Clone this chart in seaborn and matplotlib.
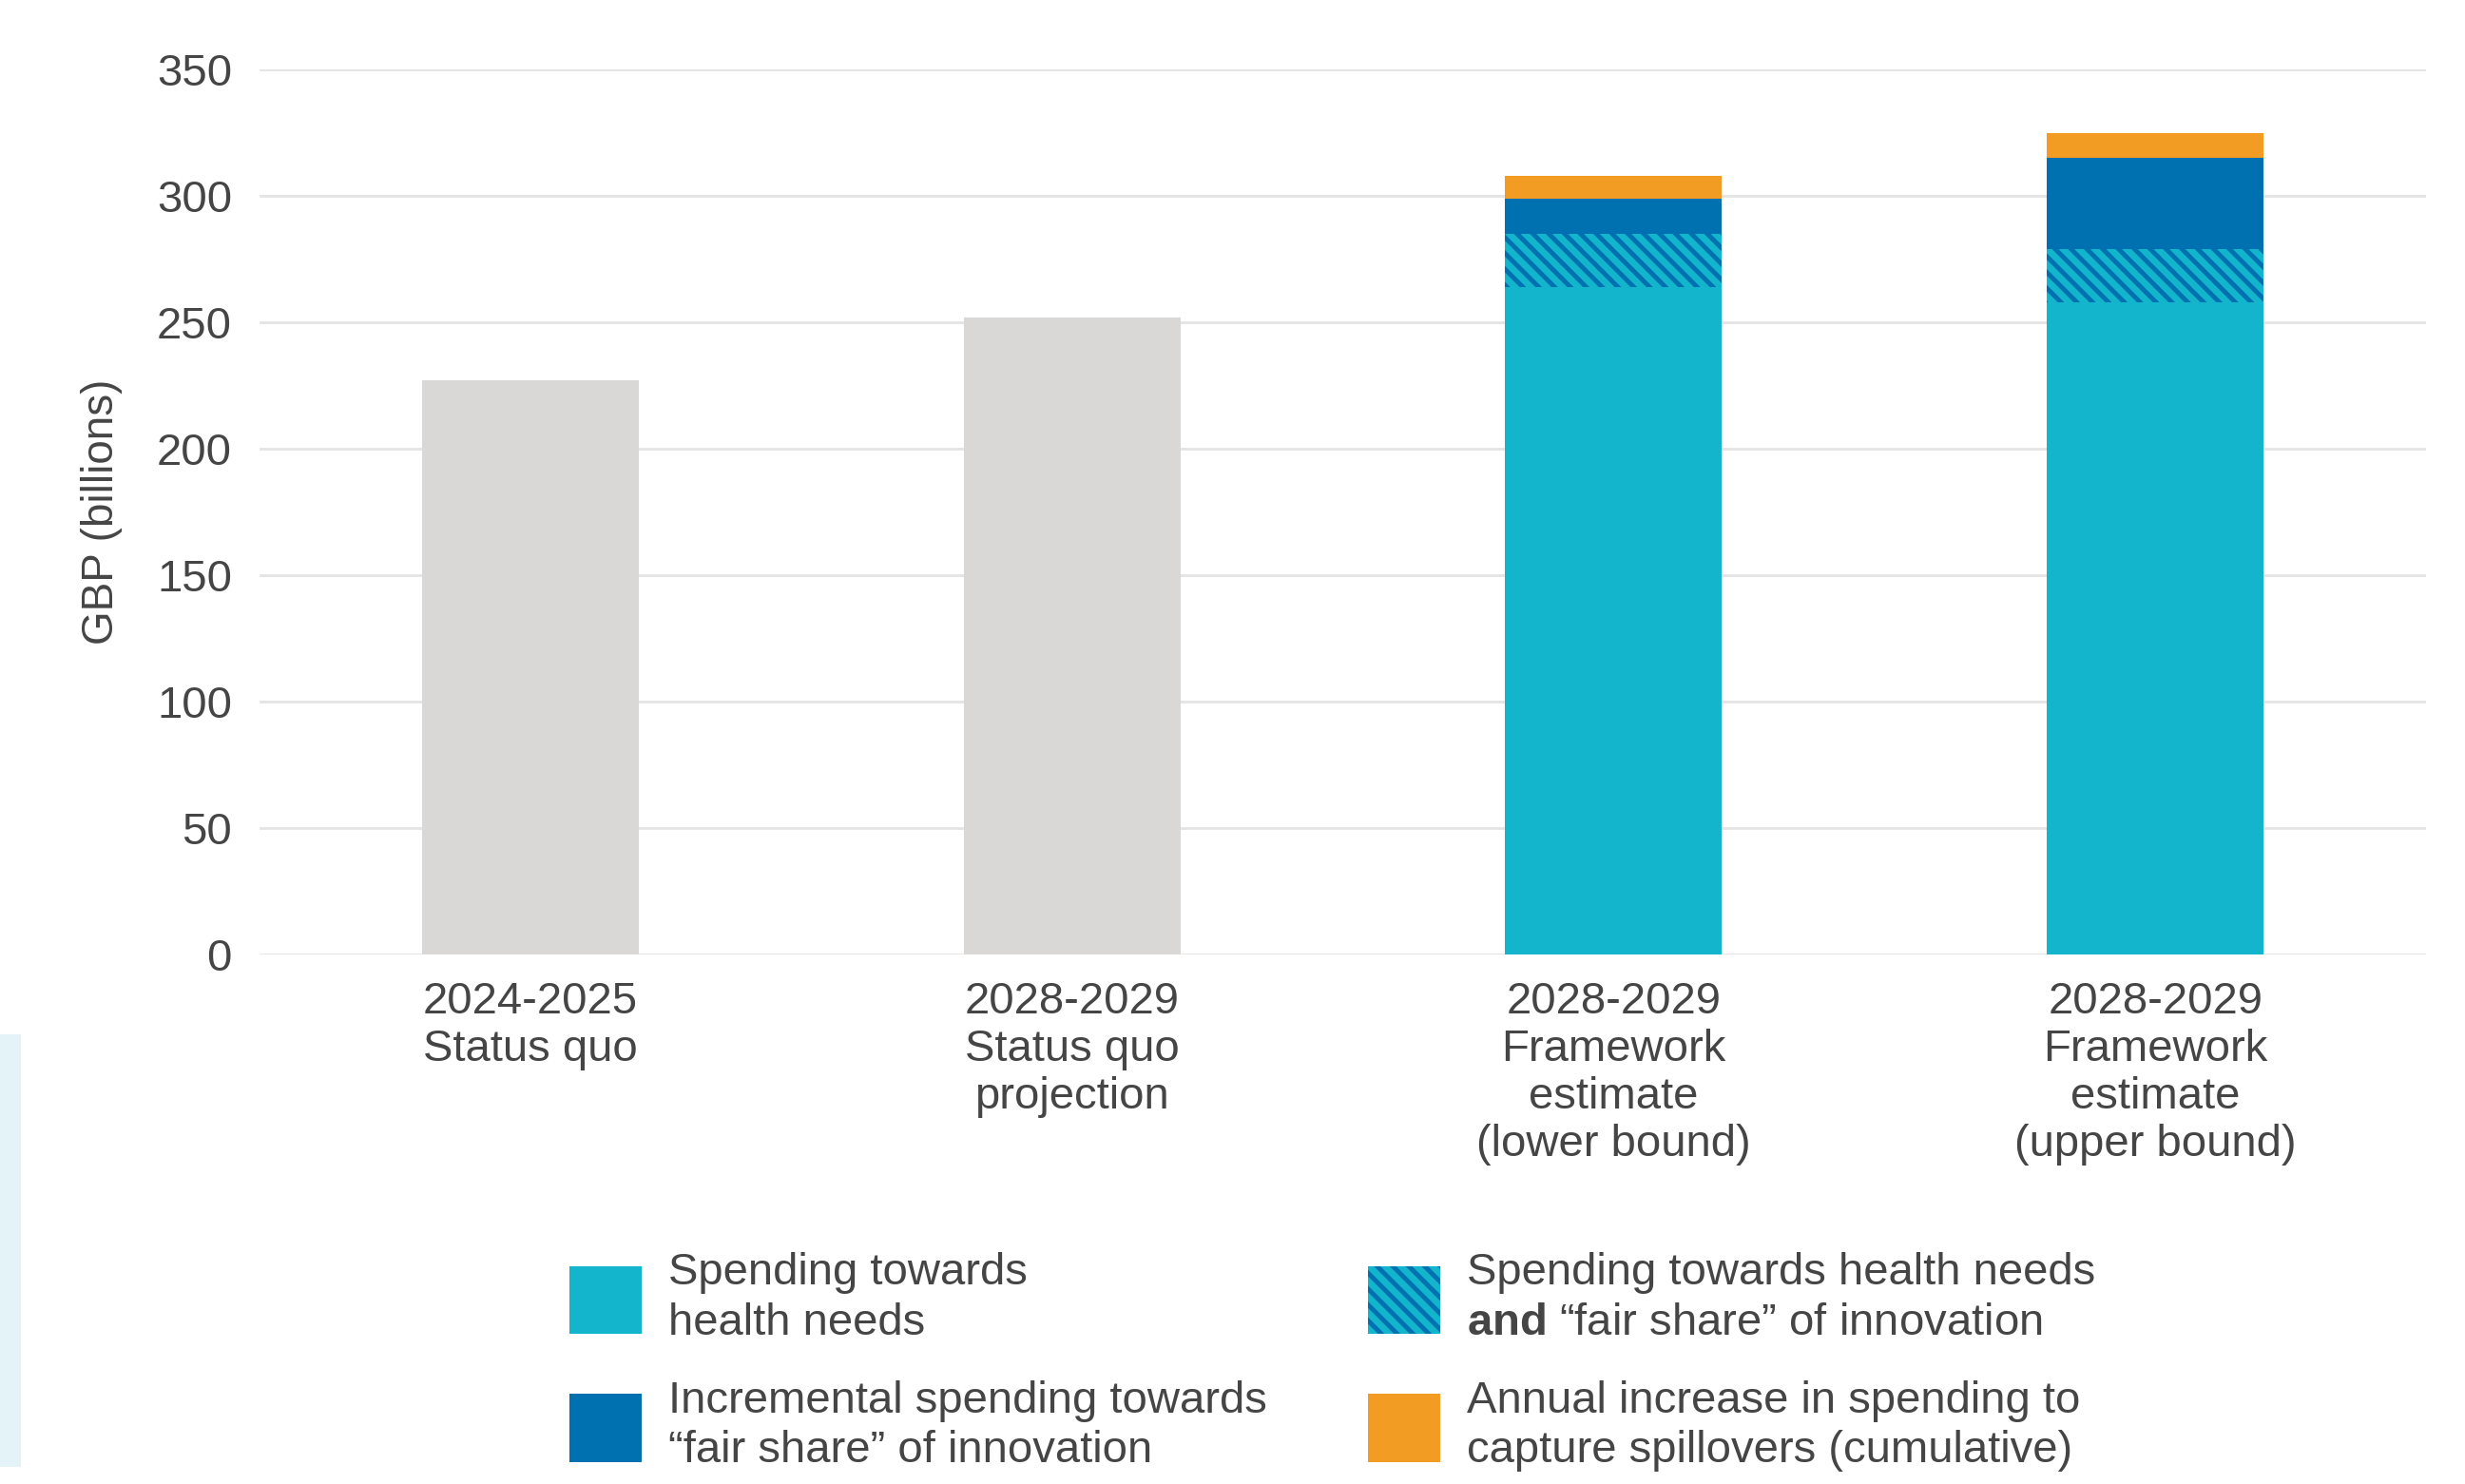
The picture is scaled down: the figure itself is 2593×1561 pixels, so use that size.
import numpy as np
import pandas as pd
import seaborn as sns
import matplotlib.pyplot as plt
import matplotlib.patches as mpatches

# chart values (GBP billions)
categories = ["2024-2025\nStatus quo",
              "2028-2029\nStatus quo\nprojection",
              "2028-2029\nFramework\nestimate\n(lower bound)",
              "2028-2029\nFramework\nestimate\n(upper bound)"]
status_quo = [227, 252, 0, 0]
health_needs = [0, 0, 264, 258]
health_and_innovation = [0, 0, 21, 21]
fair_share = [0, 0, 14, 36]
spillovers = [0, 0, 9, 10]

legend_labels = ["Spending towards\nhealth needs",
                 "Incremental spending towards\n“fair share” of innovation",
                 "Spending towards health needs\n$\\bf{and}$ “fair share” of innovation",
                 "Annual increase in spending to\ncapture spillovers (cumulative)"]

grey = "#d9d8d6"
cyan = "#13b5cc"
navy = "#0071b0"
orange = "#f39c24"
text_col = "#454545"

sns.set_theme(style="white")
plt.rcParams.update({
    "font.family": ["Liberation Sans", "DejaVu Sans"],
    "mathtext.fontset": "custom",
    "mathtext.rm": "Liberation Sans",
    "mathtext.bf": "Liberation Sans:bold",
    "hatch.linewidth": 3.5,
})

# cumulative totals, drawn from tallest to shortest
df = pd.DataFrame({"cat": categories})
df["l1"] = np.array(health_needs)
df["l2"] = df["l1"] + np.array(health_and_innovation)
df["l3"] = df["l2"] + np.array(fair_share)
df["l4"] = df["l3"] + np.array(spillovers)
df["sq"] = status_quo

fig = plt.figure(figsize=(25.93, 15.61), dpi=100)
ax = fig.add_axes([0.1053, 0.3568, 0.8789, 0.5964])

kw = dict(x="cat", order=categories, width=0.4, linewidth=0, ax=ax, saturation=1)
sns.barplot(data=df, y="sq", color=grey, **kw)
sns.barplot(data=df, y="l4", color=orange, **kw)
sns.barplot(data=df, y="l3", color=navy, **kw)
sns.barplot(data=df, y="l2", color=cyan, edgecolor=navy, hatch="\\\\", **kw)
sns.barplot(data=df, y="l1", color=cyan, **kw)

ax.set_ylim(0, 350)
ax.set_xlim(-0.5, 3.5)
ax.set_yticks(range(0, 351, 50))
ax.grid(axis="y", color="#e4e4e4", linewidth=2)
ax.set_axisbelow(True)
for s in ax.spines.values():
    s.set_visible(False)
ax.tick_params(axis="both", length=0, labelsize=34, colors=text_col)
ax.tick_params(axis="y", pad=21)
ax.tick_params(axis="x", pad=20)
for lab in ax.get_xticklabels():
    lab.set_linespacing(1.18)
ax.set_xlabel("")
ax.set_ylabel("GBP (billions)", fontsize=33, color=text_col, labelpad=26)

handles = [mpatches.Patch(facecolor=cyan, linewidth=0),
           mpatches.Patch(facecolor=navy, linewidth=0),
           mpatches.Patch(facecolor=cyan, edgecolor=navy, hatch="\\\\", linewidth=0),
           mpatches.Patch(facecolor=orange, linewidth=0)]
leg = fig.legend(handles, legend_labels, ncol=2, loc="upper left",
                 bbox_to_anchor=(0.231, 1 - 1317 / 1561), frameon=False,
                 fontsize=34, labelcolor=text_col, handlelength=1.6,
                 handleheight=1.95, handletextpad=0.6, columnspacing=2.25,
                 labelspacing=0.8, borderpad=0, borderaxespad=0)
for t in leg.get_texts():
    t.set_linespacing(1.26)

# pale strip at the left edge
fig.patches.append(mpatches.Rectangle((0, 1 - 1543 / 1561), 22 / 2593, 455 / 1561,
                                      transform=fig.transFigure, facecolor="#e3f3f8",
                                      edgecolor="none", zorder=0))

fig.savefig("out.png", dpi=100)
